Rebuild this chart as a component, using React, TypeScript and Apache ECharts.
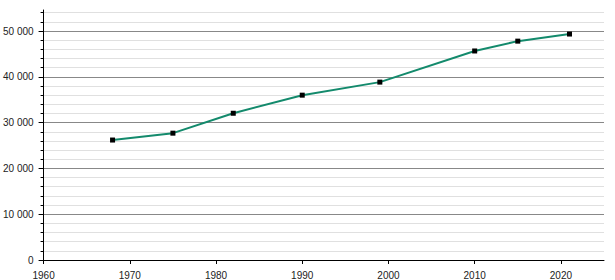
import React, { useEffect, useRef } from "react";
import * as echarts from "echarts";

const years = [1968, 1975, 1982, 1990, 1999, 2010, 2015, 2021];
const population = [26200, 27700, 32050, 36000, 38850, 45650, 47800, 49350];
const xTicks = [1960, 1970, 1980, 1990, 2000, 2010, 2020];
const yMajorTicks = [0, 10000, 20000, 30000, 40000, 50000];
const yMinorTicks = [
  0, 2000, 4000, 6000, 8000, 10000, 12000, 14000, 16000, 18000, 20000, 22000,
  24000, 26000, 28000, 30000, 32000, 34000, 36000, 38000, 40000, 42000, 44000,
  46000, 48000, 50000, 52000, 54000,
];

const fmt = (v: number) => {
  const s = String(Math.round(v));
  return s.replace(/\B(?=(\d{3})+(?!\d))/g, " ");
};

export default function App() {
  const ref = useRef<HTMLDivElement>(null);
  useEffect(() => {
    if (!ref.current) return;
    const chart = echarts.init(ref.current, undefined, { renderer: "svg" });
    const yMin = 0;
    const yMax = 54600;
    const font = { fontFamily: "Liberation Sans, Arial, sans-serif", fontSize: 10, color: "#222" };
    chart.setOption({
      animation: false,
      grid: { left: 42, right: 11, top: 10, bottom: 20, containLabel: false },
      xAxis: {
        type: "value",
        min: 1960,
        max: 2025,
        interval: 10,
        axisLine: { show: true, onZero: false, lineStyle: { color: "#000", width: 1 } },
        axisTick: { show: true, length: 4, customValues: xTicks, lineStyle: { color: "#000" } },
        axisLabel: { ...font, margin: 10, customValues: xTicks, formatter: (v: number) => String(v) },
        splitLine: { show: false },
      },
      yAxis: [
        {
          type: "value",
          min: yMin,
          max: yMax,
          interval: 2000,
          axisLine: { show: true, lineStyle: { color: "#000", width: 1 } },
          axisTick: { show: true, length: 3, customValues: yMinorTicks, lineStyle: { color: "#000" } },
          axisLabel: { show: false },
          splitLine: { show: true, showMinLine: false, lineStyle: { color: "#e0e0e0", width: 1 } },
        },
        {
          type: "value",
          position: "left",
          min: yMin,
          max: yMax,
          interval: 10000,
          axisLine: { show: false },
          axisTick: { show: true, length: 5, customValues: yMajorTicks, lineStyle: { color: "#000" } },
          axisLabel: { ...font, margin: 10, customValues: yMajorTicks, formatter: (v: number) => fmt(v) },
          splitLine: { show: true, showMinLine: false, lineStyle: { color: "#888", width: 1 } },
        },
      ],
      series: [
        {
          type: "line",
          yAxisIndex: 0,
          data: years.map((y, i) => [y, population[i]]),
          lineStyle: { color: "#138a6c", width: 2 },
          itemStyle: { color: "#000" },
          symbol: "rect",
          symbolSize: 5,
          showSymbol: true,
          z: 5,
        },
      ],
    });
    return () => chart.dispose();
  }, []);
  return <div ref={ref} style={{ width: 615, height: 280, position: "absolute", left: 0, top: 0 }} />;
}
